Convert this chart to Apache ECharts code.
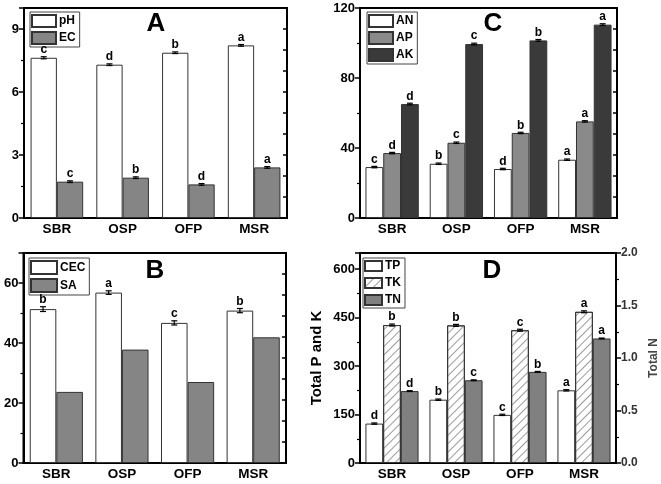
<!DOCTYPE html>
<html>
<head>
<meta charset="utf-8">
<script src="https://cdn.jsdelivr.net/npm/echarts@6/dist/echarts.min.js"></script>
<style>
  html, body { margin: 0; padding: 0; background: #fff; }
  #main { width: 661px; height: 484px; }
</style>
</head>
<body>
<div id="main"></div>
<script>
// categories shared by all four panels
const categories = ['SBR', 'OSP', 'OFP', 'MSR'];

// panel A
const phVals = [7.63, 7.30, 7.87, 8.22];
const phErr = [0.05, 0.04, 0.04, 0.04];
const phLetters = ['c', 'd', 'b', 'a'];
const ecVals = [1.73, 1.92, 1.60, 2.41];
const ecErr = [0.04, 0.04, 0.04, 0.04];
const ecLetters = ['c', 'b', 'd', 'a'];

// panel B
const cecVals = [51.3, 56.8, 46.7, 50.8];
const cecErr = [0.8, 0.6, 0.7, 0.7];
const cecLetters = ['b', 'a', 'c', 'b'];
const saVals = [23.7, 37.8, 27.0, 41.9];

// panel C
const anVals = [29.1, 31.0, 28.0, 33.3];
const anErr = [0.4, 0.4, 0.4, 0.4];
const anLetters = ['c', 'b', 'd', 'a'];
const apVals = [37.1, 43.0, 48.6, 55.2];
const apErr = [0.4, 0.4, 0.4, 0.4];
const apLetters = ['d', 'c', 'b', 'a'];
const akVals = [65.1, 99.4, 101.5, 110.5];
const akErr = [0.5, 0.5, 0.5, 0.5];
const akLetters = ['d', 'c', 'b', 'a'];

// panel D
const tpVals = [122, 196, 149, 225];
const tpErr = [2, 2, 2, 2];
const tpLetters = ['d', 'b', 'c', 'a'];
const tkVals = [427, 426, 411, 468];
const tkErr = [3, 3, 3, 3];
const tkLetters = ['b', 'b', 'c', 'a'];
const tnVals = [0.685, 0.788, 0.868, 1.186];
const tnErr = [0.004, 0.004, 0.004, 0.004];
const tnLetters = ['d', 'c', 'b', 'a'];

const FONT = 'Liberation Sans, Arial, sans-serif';
const chart = echarts.init(document.getElementById('main'));

function xAxisFor(g) {
  return {
    gridIndex: g, type: 'category', data: categories,
    axisLine: { lineStyle: { color: '#000', width: 2 } },
    axisTick: { alignWithLabel: true, length: 5, lineStyle: { color: '#000', width: 1.5 } },
    axisLabel: { color: '#000', fontWeight: 'bold', fontSize: 13.5, fontFamily: FONT, margin: 4 },
    splitLine: { show: false }
  };
}

function leftAxis(g, max, interval, showMax, extra) {
  return Object.assign({
    gridIndex: g, type: 'value', position: 'left', min: 0, max: max, interval: interval,
    axisLine: { show: true, lineStyle: { color: '#000', width: 2 } },
    axisTick: { show: true, length: 5, lineStyle: { color: '#000', width: 1.5 } },
    minorTick: { show: true, splitNumber: 2, length: 3, lineStyle: { color: '#000', width: 1.2 } },
    axisLabel: { color: '#000', fontWeight: 'bold', fontSize: 13, fontFamily: FONT, margin: 5, showMaxLabel: showMax },
    splitLine: { show: false }
  }, extra || {});
}

// inner ticks along the right frame (panels A, B, C)
function mirrorAxis(g) {
  return {
    gridIndex: g, type: 'value', position: 'right', min: 0, max: 10, interval: 1,
    axisLine: { show: false },
    axisTick: { show: true, inside: true, length: 4, lineStyle: { color: '#000', width: 1.5 } },
    axisLabel: { show: false },
    splitLine: { show: false }
  };
}

function bar(name, g, yIdx, data, color, gap, extraStyle) {
  return {
    name: name, type: 'bar', xAxisIndex: g, yAxisIndex: yIdx, data: data,
    barGap: 0, barCategoryGap: gap,
    itemStyle: Object.assign({ color: color, borderColor: '#333', borderWidth: 1 }, extraStyle || {})
  };
}

// error bar + significance letter, placed on the i-th of n bars in a group
function errSeries(g, yIdx, n, i, gapPct, vals, errs, letters) {
  return {
    type: 'custom', xAxisIndex: g, yAxisIndex: yIdx, silent: true, z: 10,
    data: vals.map(function (v, k) { return [k, v]; }),
    encode: { x: 0, y: 1 },
    renderItem: function (params, api) {
      const k = params.dataIndex;
      const band = api.size([1, 0])[0];
      const bw = band * (1 - gapPct) / n;
      const c = api.coord([k, vals[k]]);
      const x = c[0] - n * bw / 2 + bw * (i + 0.5);
      const top = api.coord([k, vals[k] + errs[k]])[1];
      const bot = api.coord([k, vals[k] - errs[k]])[1];
      const ls = { stroke: '#000', lineWidth: 1.2 };
      const kids = [
        { type: 'line', shape: { x1: x, y1: top, x2: x, y2: bot }, style: ls },
        { type: 'line', shape: { x1: x - 3, y1: top, x2: x + 3, y2: top }, style: ls },
        { type: 'line', shape: { x1: x - 3, y1: bot, x2: x + 3, y2: bot }, style: ls }
      ];
      if (letters) {
        kids.push({
          type: 'text', x: x, y: top - 1,
          style: { text: letters[k], align: 'center', verticalAlign: 'bottom',
                   font: 'bold 12px ' + FONT, fill: '#000' }
        });
      }
      return { type: 'group', children: kids };
    }
  };
}

function legendFor(names, left, top, w, h, gap) {
  return {
    data: names, orient: 'vertical', left: left, top: top,
    itemWidth: w, itemHeight: h, itemGap: gap, icon: 'rect',
    padding: [2, 4, 2, 1], borderColor: '#444', borderWidth: 1,
    selectedMode: false,
    textStyle: { color: '#000', fontWeight: 'bold', fontSize: 12, fontFamily: FONT, padding: [0, 0, 0, -2] }
  };
}

const hatch = {
  symbol: 'rect', symbolSize: 1, color: '#9a9a9a',
  dashArrayX: [1, 0], dashArrayY: [1, 5], rotation: -Math.PI / 4
};

function panelTitle(t, x, y) {
  return { type: 'text', x: x, y: y,
    style: { text: t, align: 'center', verticalAlign: 'middle', font: 'bold 26px ' + FONT, fill: '#000' } };
}

const option = {
  animation: false,
  backgroundColor: '#fff',
  grid: [
    { left: 24, top: 8, width: 263, height: 210, show: true, borderColor: '#000', borderWidth: 2 },
    { left: 23.5, top: 253, width: 262.5, height: 210, show: true, borderColor: '#000', borderWidth: 2 },
    { left: 360, top: 8, width: 257, height: 210, show: true, borderColor: '#000', borderWidth: 2 },
    { left: 360, top: 253, width: 257, height: 210, show: true, borderColor: '#000', borderWidth: 2 }
  ],
  xAxis: [xAxisFor(0), xAxisFor(1), xAxisFor(2), xAxisFor(3)],
  yAxis: [
    leftAxis(0, 10, 3, false), mirrorAxis(0),
    leftAxis(1, 70, 20, false), mirrorAxis(1),
    leftAxis(2, 120, 40, true), mirrorAxis(2),
    leftAxis(3, 650, 150, false, {
      name: 'Total P and K', nameLocation: 'middle', nameGap: 36,
      nameTextStyle: { color: '#000', fontWeight: 'bold', fontSize: 15, fontFamily: FONT }
    }),
    {
      gridIndex: 3, type: 'value', position: 'right', min: 0, max: 2, interval: 0.5,
      name: 'Total N', nameLocation: 'middle', nameGap: 32,
      nameTextStyle: { color: '#444', fontWeight: 'bold', fontSize: 12, fontFamily: FONT },
      axisLine: { show: true, lineStyle: { color: '#000', width: 2 } },
      axisTick: { show: true, length: 5, lineStyle: { color: '#000', width: 1.5 } },
      minorTick: { show: true, splitNumber: 2, length: 3, lineStyle: { color: '#000', width: 1.2 } },
      axisLabel: { color: '#333', fontWeight: 'bold', fontSize: 12, fontFamily: FONT, margin: 5,
                   formatter: function (v) { return v.toFixed(1); } },
      splitLine: { show: false }
    }
  ],
  legend: [
    legendFor(['pH', 'EC'], 30, 12, 24, 12, 3),
    legendFor(['CEC', 'SA'], 29, 258, 26, 13, 3),
    legendFor(['AN', 'AP', 'AK'], 367, 12, 24, 12, 3),
    legendFor(['TP', 'TK', 'TN'], 363, 258, 17, 10, 5)
  ],
  graphic: [
    panelTitle('A', 156, 24),
    panelTitle('B', 155, 271),
    panelTitle('C', 493, 24),
    panelTitle('D', 492, 271)
  ],
  series: [
    bar('pH', 0, 0, phVals, '#fff', '20%'),
    bar('EC', 0, 0, ecVals, '#858585', '20%'),
    errSeries(0, 0, 2, 0, 0.2, phVals, phErr, phLetters),
    errSeries(0, 0, 2, 1, 0.2, ecVals, ecErr, ecLetters),

    bar('CEC', 1, 2, cecVals, '#fff', '19%'),
    bar('SA', 1, 2, saVals, '#858585', '19%'),
    errSeries(1, 2, 2, 0, 0.19, cecVals, cecErr, cecLetters),

    bar('AN', 2, 4, anVals, '#fff', '17%'),
    bar('AP', 2, 4, apVals, '#8a8a8a', '17%'),
    bar('AK', 2, 4, akVals, '#3a3a3a', '17%'),
    errSeries(2, 4, 3, 0, 0.17, anVals, anErr, anLetters),
    errSeries(2, 4, 3, 1, 0.17, apVals, apErr, apLetters),
    errSeries(2, 4, 3, 2, 0.17, akVals, akErr, akLetters),

    bar('TP', 3, 6, tpVals, '#fff', '17%'),
    bar('TK', 3, 6, tkVals, '#fff', '17%', { decal: hatch }),
    bar('TN', 3, 7, tnVals, '#808080', '17%'),
    errSeries(3, 6, 3, 0, 0.17, tpVals, tpErr, tpLetters),
    errSeries(3, 6, 3, 1, 0.17, tkVals, tkErr, tkLetters),
    errSeries(3, 7, 3, 2, 0.17, tnVals, tnErr, tnLetters)
  ]
};

chart.setOption(option);
</script>
</body>
</html>
